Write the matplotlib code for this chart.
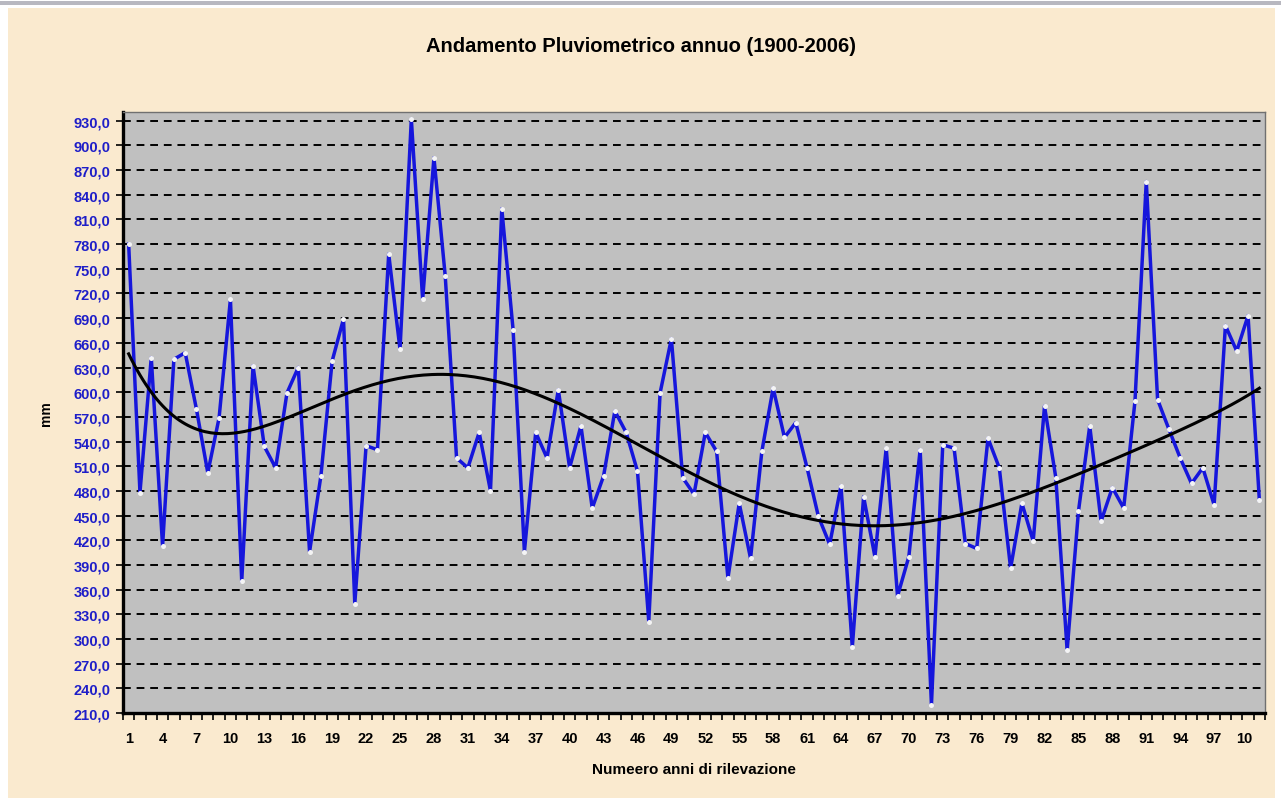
import numpy as np
import matplotlib
matplotlib.use("Agg")
import matplotlib.pyplot as plt
from matplotlib.patches import Rectangle
from matplotlib.transforms import Bbox
from matplotlib.ticker import FixedLocator, FuncFormatter

# annual rainfall (mm), survey years 1..101
anni = list(range(1, 102))
pioggia = [780, 478, 642, 413, 640, 648, 579, 502, 569, 713,
           370, 632, 534, 508, 599, 630, 406, 498, 638, 689,
           343, 535, 530, 768, 652, 932, 713, 885, 741, 520,
           508, 551, 480, 823, 676, 406, 551, 520, 603, 508,
           559, 459, 498, 577, 551, 504, 321, 599, 665, 496,
           476, 551, 528, 374, 465, 398, 528, 605, 545, 563,
           508, 449, 415, 486, 290, 473, 400, 532, 352, 400,
           530, 220, 536, 532, 416, 410, 544, 508, 386, 465,
           419, 583, 496, 286, 455, 559, 443, 484, 459, 589,
           856, 591, 555, 520, 489, 508, 463, 681, 650, 693,
           469]
y_ticks = list(range(210, 931, 30))
x_labels = list(range(1, 101, 3))

beige = '#FAEACF'
blu = '#1616DC'

fig = plt.figure(figsize=(12.81, 8.03), dpi=100, facecolor='white')
# chart area background
fig.patches.append(Rectangle((8 / 1281, 4 / 803), 1267 / 1281, 790 / 803,
                             transform=fig.transFigure, facecolor=beige,
                             edgecolor='none', zorder=-10))
fig.patches.append(Rectangle((0, 797 / 803), 1, 4 / 803,
                             transform=fig.transFigure, facecolor='#B8B8C0',
                             edgecolor='none', zorder=-10))

ax = fig.add_axes([123 / 1281, 1 - 714 / 803, 1142 / 1281, 601 / 803])
ax.set_zorder(1)
ax.set_facecolor('#C0C0C0')

x = np.array(anni)
y = np.array(pioggia)

# polynomial trend line, as in the spreadsheet
coef = np.polyfit(x, y, 6)
xs = np.linspace(1, 101, 400)
ax.plot(xs, np.polyval(coef, xs), color='black', lw=2.2, zorder=4)

ax.plot(x, y, color=blu, lw=2.5, zorder=3)
ax.plot(x, y, ls='none', marker='o', ms=3.6, mfc='#F4F4F4', mec='none', zorder=5)

ax.set_xlim(0.5, 101.5)
ax.set_ylim(210, 940.6)

ax.yaxis.set_major_locator(FixedLocator(y_ticks))
ax.yaxis.set_major_formatter(FuncFormatter(lambda v, p: f"{v:.1f}".replace('.', ',')))
ax.grid(axis='y', color='black', ls=(0, (4, 3)), lw=1.4)
ax.set_axisbelow(True)

ax.xaxis.set_major_locator(FixedLocator(x_labels))
ax.xaxis.set_minor_locator(FixedLocator(np.arange(0.5, 102, 1)))
ax.tick_params(axis='x', which='major', length=0, pad=13)
ax.tick_params(axis='x', which='minor', length=5, width=1.2, direction='out')
ax.tick_params(axis='y', length=5, width=1.2, direction='out', pad=4)

for lab in ax.get_yticklabels():
    lab.set_color('#1E1EC8')
    lab.set_fontweight('bold')
    lab.set_fontsize(10.5)
    lab.set_family('Liberation Sans')
for lab in ax.get_xticklabels():
    lab.set_fontweight('bold')
    lab.set_fontsize(10.5)
    lab.set_family('Liberation Sans')

for s in ['left', 'bottom']:
    ax.spines[s].set_linewidth(2.4)
    ax.spines[s].set_color('black')
for s in ['top', 'right']:
    ax.spines[s].set_linewidth(1.0)
    ax.spines[s].set_color('#707070')

ax.set_xlabel('Numeero anni di rilevazione', fontsize=11, fontweight='bold',
              family='Liberation Sans', labelpad=12)
ax.set_ylabel('mm', fontsize=10, fontweight='bold', family='Liberation Sans', labelpad=15)
fig.text(0.5, 1 - 47 / 803, 'Andamento Pluviometrico annuo (1900-2006)', ha='center',
         va='center', fontsize=14.5, fontweight='bold', family='Liberation Sans')

# the last category label is cut at the edge of the chart, as in the original
clip = Bbox.from_extents(0, 0, 1252, 803)
ax.get_xticklabels()[-1].set_clip_box(clip)
ax.get_xticklabels()[-1].set_clip_on(True)

fig.savefig('out.png', dpi=100, facecolor=fig.get_facecolor())
